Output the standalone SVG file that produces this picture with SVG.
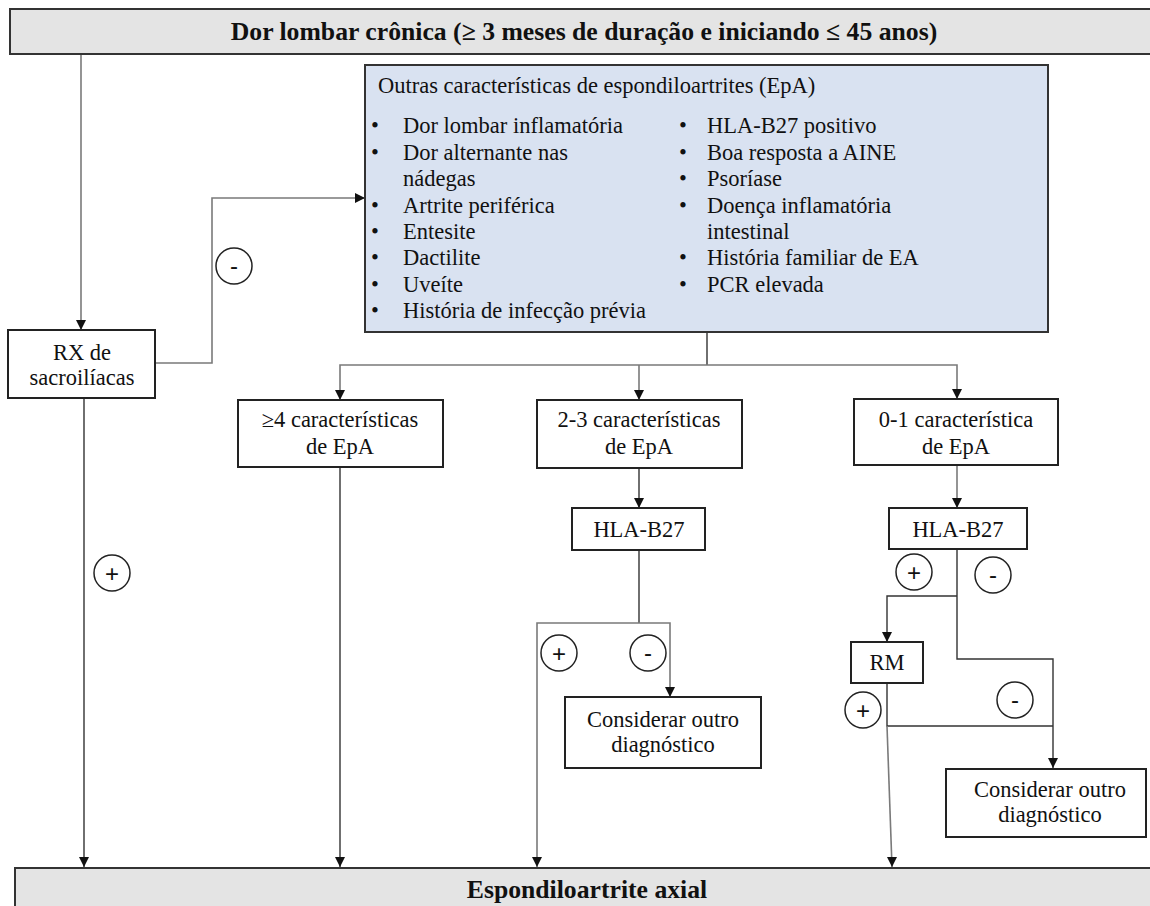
<svg xmlns="http://www.w3.org/2000/svg" width="1150" height="906" viewBox="0 0 1150 906">
<defs>
<marker id="ad" markerWidth="12" markerHeight="12" refX="6" refY="11" orient="0" markerUnits="userSpaceOnUse" viewBox="0 0 12 12">
<path d="M1,1 L11,1 L6,11 Z" fill="#111"/>
</marker>
<marker id="ar" markerWidth="12" markerHeight="12" refX="11" refY="6" orient="0" markerUnits="userSpaceOnUse" viewBox="0 0 12 12">
<path d="M1,1 L1,11 L11,6 Z" fill="#111"/>
</marker>
</defs>
<style>
text{font-family:"Liberation Serif","Times New Roman",serif;font-size:22.5px;fill:#111}
.c{text-anchor:middle}
.b{font-weight:bold;font-size:25.7px}
.box{fill:#fff;stroke:#222;stroke-width:2}
.bar{fill:#e4e4e4;stroke:#333;stroke-width:2}
.blue{fill:#d9e2f1;stroke:#333;stroke-width:2}
.ln{fill:none;stroke:#333;stroke-width:1.4}
.gl{fill:none;stroke:#7a7a7a;stroke-width:1.6}
.sg{fill:#fff;stroke:#222;stroke-width:1.5}
.st{font-family:"Liberation Sans",Arial,sans-serif;font-size:24px;text-anchor:middle}
</style>
<rect width="1150" height="906" fill="#fff"/>

<g id="connectors">
<path class="gl" d="M81 54 V330" marker-end="url(#ad)"/>
<path class="gl" d="M155 363 H212 V198 H365" marker-end="url(#ar)"/>
<path class="ln" d="M84 398 V867" marker-end="url(#ad)"/>
<path class="ln" d="M707 332 V365"/>
<path class="gl" d="M707 365 H340 V400" marker-end="url(#ad)"/>
<path class="gl" d="M707 365 H957 V399" marker-end="url(#ad)"/>
<path class="gl" d="M639 365 V400" marker-end="url(#ad)"/>
<path class="ln" d="M340 467 V867" marker-end="url(#ad)"/>
<path class="ln" d="M639 468 V508" marker-end="url(#ad)"/>
<path class="ln" d="M639 550 V623"/>
<path class="gl" d="M639 623 H537 V867" marker-end="url(#ad)"/>
<path class="gl" d="M639 623 H670 V697" marker-end="url(#ad)"/>
<path class="gl" d="M957 465 V508" marker-end="url(#ad)"/>
<path class="ln" d="M957 549 V659 H1053 V768" marker-end="url(#ad)"/>
<path class="ln" d="M957 596 H887 V642" marker-end="url(#ad)"/>
<path class="ln" d="M887 683 V726 H1053"/>
<path class="gl" d="M887 726 L892 867" marker-end="url(#ad)"/>
<circle class="sg" cx="234" cy="266" r="18"/><text class="st" x="234" y="274">-</text>
<circle class="sg" cx="112" cy="573" r="18"/><text class="st" x="112" y="582">+</text>
<circle class="sg" cx="559" cy="653" r="18"/><text class="st" x="559" y="662">+</text>
<circle class="sg" cx="648" cy="653" r="18"/><text class="st" x="648" y="661">-</text>
<circle class="sg" cx="914" cy="572" r="18"/><text class="st" x="914" y="581">+</text>
<circle class="sg" cx="993" cy="575" r="18"/><text class="st" x="993" y="583">-</text>
<circle class="sg" cx="863" cy="710" r="18"/><text class="st" x="863" y="719">+</text>
<circle class="sg" cx="1015" cy="700" r="18"/><text class="st" x="1015" y="708">-</text>
</g>

<g id="top">
<rect class="bar" x="10" y="9" width="1160" height="45"/>
<text class="c b" x="584" y="40">Dor lombar crônica (≥ 3 meses de duração e iniciando ≤ 45 anos)</text>
</g>

<g id="features">
<rect class="blue" x="365" y="65" width="683" height="267"/>
<text x="378" y="93">Outras características de espondiloartrites (EpA)</text>
<g>
<text x="371" y="133">•</text><text x="403" y="133">Dor lombar inflamatória</text>
<text x="371" y="160">•</text><text x="403" y="160">Dor alternante nas</text>
<text x="403" y="186">nádegas</text>
<text x="371" y="213">•</text><text x="403" y="213">Artrite periférica</text>
<text x="371" y="239">•</text><text x="403" y="239">Entesite</text>
<text x="371" y="265">•</text><text x="403" y="265">Dactilite</text>
<text x="371" y="292">•</text><text x="403" y="292">Uveíte</text>
<text x="371" y="318">•</text><text x="403" y="318">História de infecção prévia</text>
<text x="679" y="133">•</text><text x="707" y="133">HLA-B27 positivo</text>
<text x="679" y="160">•</text><text x="707" y="160">Boa resposta a AINE</text>
<text x="679" y="186">•</text><text x="707" y="186">Psoríase</text>
<text x="679" y="213">•</text><text x="707" y="213">Doença inflamatória</text>
<text x="707" y="239">intestinal</text>
<text x="679" y="265">•</text><text x="707" y="265">História familiar de EA</text>
<text x="679" y="292">•</text><text x="707" y="292">PCR elevada</text>
</g>
</g>

<g id="rx">
<rect class="box" x="8" y="330" width="147" height="68"/>
<text class="c" x="82" y="360">RX de</text>
<text class="c" x="82" y="385">sacroilíacas</text>
</g>

<g id="ge4">
<rect class="box" x="238" y="400" width="205" height="67"/>
<text class="c" x="340" y="427">≥4 características</text>
<text class="c" x="340" y="454">de EpA</text>
</g>

<g id="f23">
<rect class="box" x="537" y="400" width="205" height="68"/>
<text class="c" x="639" y="427">2-3 características</text>
<text class="c" x="639" y="454">de EpA</text>
</g>

<g id="hla1">
<rect class="box" x="572" y="508" width="133" height="42"/>
<text class="c" x="639" y="537">HLA-B27</text>
</g>

<g id="f01">
<rect class="box" x="854" y="399" width="204" height="66"/>
<text class="c" x="956" y="427">0-1 característica</text>
<text class="c" x="956" y="454">de EpA</text>
</g>

<g id="hla2">
<rect class="box" x="889" y="508" width="138" height="41"/>
<text class="c" x="958" y="537">HLA-B27</text>
</g>

<g id="rm">
<rect class="box" x="851" y="642" width="72" height="41"/>
<text class="c" x="887" y="670">RM</text>
</g>

<g id="outro1">
<rect class="box" x="565" y="697" width="196" height="71"/>
<text class="c" x="663" y="727">Considerar outro</text>
<text class="c" x="663" y="752">diagnóstico</text>
</g>

<g id="outro2">
<rect class="box" x="946" y="769" width="200" height="68"/>
<text class="c" x="1050" y="797">Considerar outro</text>
<text class="c" x="1050" y="822">diagnóstico</text>
</g>

<g id="bottom">
<rect class="bar" x="15" y="868" width="1160" height="60"/>
<text class="c b" x="587" y="898">Espondiloartrite axial</text>
</g>
</svg>
